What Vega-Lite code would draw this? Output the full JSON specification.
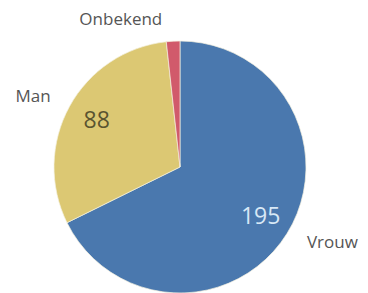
{
  "$schema": "https://vega.github.io/schema/vega-lite/v6.json",
  "autosize": "none",
  "width": 252,
  "height": 252,
  "padding": {"left": 54, "top": 41, "right": 62, "bottom": 0},
  "background": "white",
  "data": {"values": [
    {"geslacht": "Vrouw", "aantal": 195, "volgorde": 1},
    {"geslacht": "Man", "aantal": 88, "volgorde": 2},
    {"geslacht": "Onbekend", "aantal": 5, "volgorde": 3}
  ]},
  "encoding": {
    "theta": {"field": "aantal", "type": "quantitative", "stack": true},
    "order": {"field": "volgorde", "type": "quantitative"}
  },
  "layer": [
    {
      "mark": {"type": "arc", "outerRadius": 126, "stroke": "#f4f0e0", "strokeWidth": 0.7},
      "encoding": {
        "color": {
          "field": "geslacht", "type": "nominal", "legend": null,
          "scale": {"domain": ["Vrouw", "Man", "Onbekend"], "range": ["#4a78ae", "#dcc873", "#d15a6b"]}
        }
      }
    },
    {
      "mark": {"type": "text", "radius": 95, "font": "Open Sans", "fontSize": 23},
      "encoding": {
        "text": {"condition": {"test": "datum.geslacht !== 'Onbekend'", "field": "aantal", "type": "quantitative"}, "value": ""},
        "color": {"condition": {"test": "datum.geslacht === 'Vrouw'", "value": "#d8e8f6"}, "value": "#5a5430"}
      }
    },
    {
      "mark": {"type": "text", "radius": 170, "dx": 8, "dy": -14, "font": "Open Sans", "fontSize": 17, "color": "#555555"},
      "encoding": {
        "text": {"condition": {"test": "datum.geslacht === 'Vrouw'", "field": "geslacht", "type": "nominal"}, "value": ""}
      }
    },
    {
      "mark": {"type": "text", "radius": 163, "dx": -4, "dy": 8, "font": "Open Sans", "fontSize": 17, "color": "#555555"},
      "encoding": {
        "text": {"condition": {"test": "datum.geslacht === 'Man'", "field": "geslacht", "type": "nominal"}, "value": ""}
      }
    },
    {
      "mark": {"type": "text", "radius": 150, "dx": -51, "dy": 3, "font": "Open Sans", "fontSize": 17, "color": "#555555"},
      "encoding": {
        "text": {"condition": {"test": "datum.geslacht === 'Onbekend'", "field": "geslacht", "type": "nominal"}, "value": ""}
      }
    }
  ]
}
